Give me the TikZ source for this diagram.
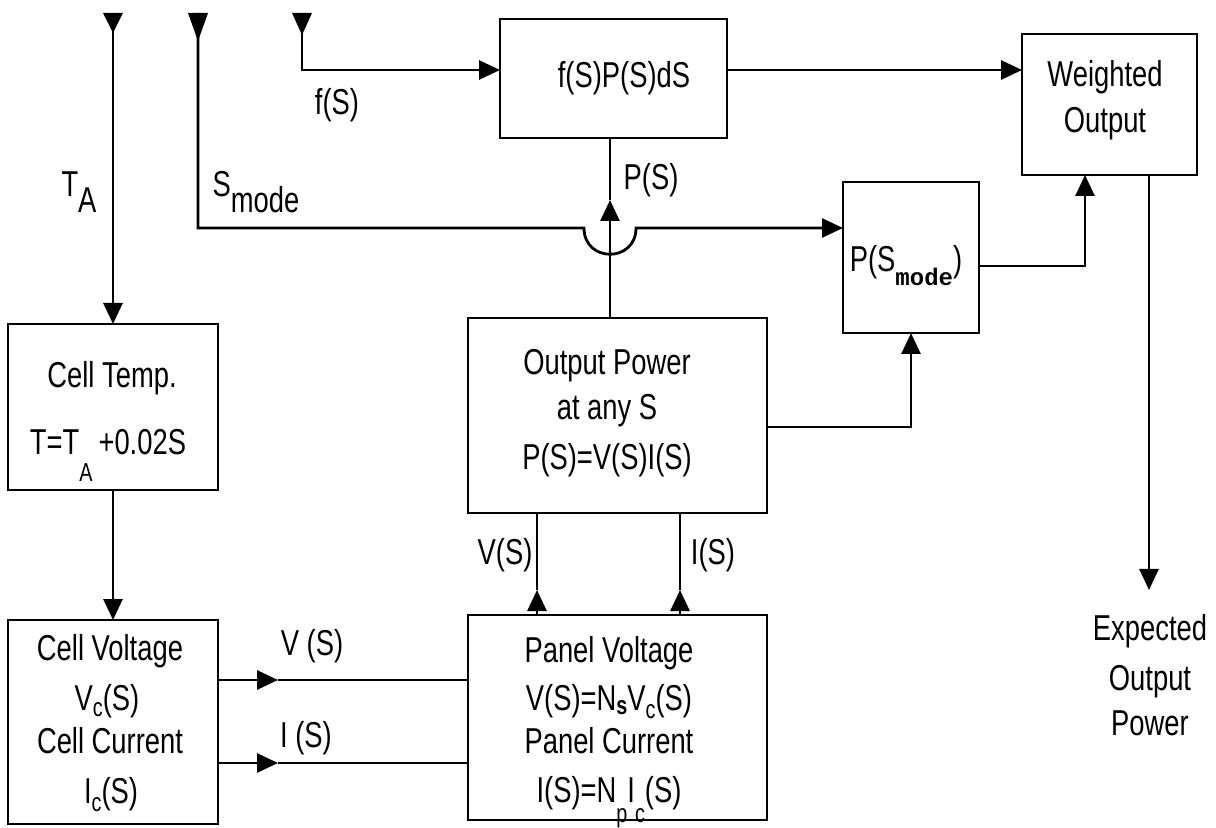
\documentclass[tikz,border=0pt]{standalone}
\usepackage{fontspec}
\setmainfont{Liberation Sans}[FakeStretch=0.76]
\newfontfamily\modefont{Liberation Mono}
\usetikzlibrary{arrows.meta}
\newcommand{\sbs}[2]{\raisebox{#1}{\fontsize{13}{13}\selectfont #2}}
\begin{document}
\begin{tikzpicture}[x=0.5pt,y=-0.5pt, line width=1.4pt,
  box/.style={draw, inner sep=0pt, outer sep=0pt},
  arr/.style={-{Triangle[length=10.5pt,width=9.5pt]}},
  lbl/.style={inner sep=0pt, anchor=base, font=\fontsize{18}{21}\selectfont},
]
\useasboundingbox (0,0) rectangle (1216,828);

% boxes
\node[box, minimum width=113.5pt, minimum height=59.5pt] (fps) at (613.5,78.5) {};
\node[box, minimum width=87.5pt, minimum height=70.5pt] (wout) at (1109.5,104.5) {};
\node[box, minimum width=68pt, minimum height=75.5pt] (psm) at (911,257.5) {};
\node[box, minimum width=149.5pt, minimum height=97.5pt] (opw) at (617.5,415.5) {};
\node[box, minimum width=149.5pt, minimum height=102.5pt] (panel) at (617.5,717.5) {};
\node[box, minimum width=105pt, minimum height=83pt] (ctemp) at (113,407) {};
\node[box, minimum width=105pt, minimum height=102pt] (cvolt) at (113,722) {};

% box texts
\node[lbl] (tfps) at (624,88) {f(S)P(S)dS};
\node[lbl] (tw1) at (1105,87) {Weighted};
\node[lbl] (tw2) at (1105,133) {Output};
\node[lbl] (tpsm) at (906,272) {P(S\raisebox{-7pt}{\modefont\bfseries\fontsize{12}{12}\selectfont mode})};
\node[lbl] (to1) at (607,375) {Output Power};
\node[lbl] (to2) at (607,420) {at any S};
\node[lbl] (to3) at (607,470) {P(S)=V(S)I(S)};
\node[lbl] (tp1) at (609,662) {Panel Voltage};
\node[lbl] (tp2) at (609,710) {V(S)=N\sbs{-2pt}{\bfseries s}V\sbs{-4pt}{c}(S)};
\node[lbl] (tp3) at (609,753) {Panel Current};
\node[lbl] (tp4) at (609,802) {I(S)=N\sbs{-10pt}{p}I\sbs{-10pt}{c}(S)};
\node[lbl] (tc1) at (112,388) {Cell Temp.};
\node[lbl] (tc2) at (108,455) {T=T\raisebox{-13.5pt}{\fontsize{13}{13}\selectfont A}\,+0.02S};
\node[lbl] (tv1) at (110,660) {Cell Voltage};
\node[lbl] (tv2) at (107,710) {V\sbs{-3pt}{c}(S)};
\node[lbl] (tv3) at (110,753) {Cell Current};
\node[lbl] (tv4) at (111,803) {I\sbs{-4pt}{c}(S)};
\node[lbl] (te1) at (1150,640) {Expected};
\node[lbl] (te2) at (1150,690) {Output};
\node[lbl] (te3) at (1150,735) {Power};

% connector labels
\node[lbl] (lta) at (79,197) {T\raisebox{-8pt}{A}};
\node[lbl] (lsm) at (256,197) {S\raisebox{-8pt}{mode}};
\node[lbl] (lfs) at (337,115) {f(S)};
\node[lbl] (lps) at (651,190) {P(S)};
\node[lbl] (lvs) at (505,565) {V(S)};
\node[lbl] (lis) at (713,565) {I(S)};
\node[lbl] (lvh) at (312,655) {V (S)};
\node[lbl] (lih) at (306,747) {I (S)};

% input terminals
\coordinate (ta) at (113,13);
\coordinate (sm) at (198,13);
\coordinate (fs) at (302,13);
\fill (ta) ++(-10,0) -- ++(20,0) -- ++(-10,20) -- cycle;
\fill (sm) ++(-10,0) -- ++(20,0) -- ++(-10,28) -- cycle;
\fill (fs) ++(-10,0) -- ++(20,0) -- ++(-10,22) -- cycle;

% T_A
\draw[arr] (ta) -- (ctemp.north);
\draw[arr] (ctemp.south) -- (cvolt.north);

% S_mode with hop
\coordinate (hopL) at (584,228);
\coordinate (hopR) at (636,228);
\draw[arr] (sm) |- (hopL) .. controls +(0,35) and +(0,35) .. (hopR) -- (psm.west |- hopR);

% f(S)
\draw[arr] (fs) |- (fps.west |- 0,70);
\draw[arr] (fps.east |- 0,70) -- (wout.west |- 0,70);

% P(S)
\coordinate (psarr) at (610,200);
\draw[arr] (opw.north -| psarr) -- (psarr);
\draw (psarr) -- (fps.south -| psarr);

% to P(S_mode)
\draw[arr] (opw.east |- 0,427) -| (psm.south);
\draw[arr] (psm.east |- 0,266) -| (wout.south -| 1085,0);

% output
\coordinate (eop) at (1149,590);
\draw[arr] (wout.south -| eop) -- (eop);

% cell to panel
\coordinate (va) at (278,680);
\coordinate (ia) at (278,763);
\draw[arr] (cvolt.east |- va) -- (va);
\draw (va) -- (panel.west |- va);
\draw[arr] (cvolt.east |- ia) -- (ia);
\draw (ia) -- (panel.west |- ia);

% panel to output power
\coordinate (vu) at (537,590);
\coordinate (iu) at (680,590);
\draw[arr] (panel.north -| vu) -- (vu);
\draw (vu) -- (opw.south -| vu);
\draw[arr] (panel.north -| iu) -- (iu);
\draw (iu) -- (opw.south -| iu);
\end{tikzpicture}
\end{document}
